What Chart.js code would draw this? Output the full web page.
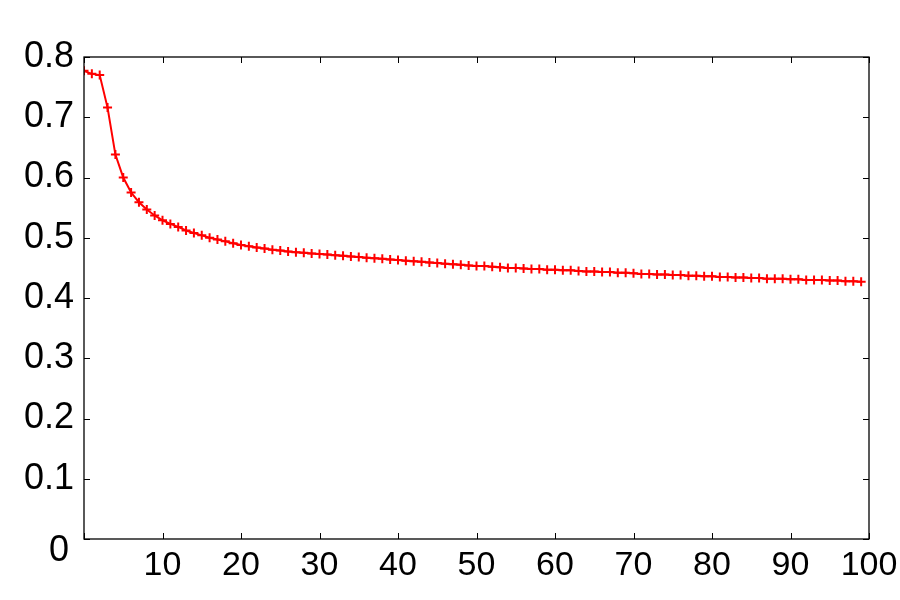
<!DOCTYPE html>
<html>
<head>
<meta charset="utf-8">
<script src="https://cdn.jsdelivr.net/npm/chart.js@4/dist/chart.umd.min.js"></script>
<style>
  html, body { margin: 0; padding: 0; background: #fff; }
  #wrap { width: 900px; height: 600px; }
</style>
</head>
<body>
<div id="wrap"><canvas id="lineChart"></canvas></div>
<script>
// x positions (iteration index) and the measured values
const xValues = [
  0, 1, 2, 3, 4, 5, 6, 7, 8, 9,
  10, 11, 12, 13, 14, 15, 16, 17, 18, 19,
  20, 21, 22, 23, 24, 25, 26, 27, 28, 29,
  30, 31, 32, 33, 34, 35, 36, 37, 38, 39,
  40, 41, 42, 43, 44, 45, 46, 47, 48, 49,
  50, 51, 52, 53, 54, 55, 56, 57, 58, 59,
  60, 61, 62, 63, 64, 65, 66, 67, 68, 69,
  70, 71, 72, 73, 74, 75, 76, 77, 78, 79,
  80, 81, 82, 83, 84, 85, 86, 87, 88, 89,
  90, 91, 92, 93, 94, 95, 96, 97, 98, 99
];
const yValues = [
  0.777, 0.772, 0.770, 0.716, 0.638, 0.600, 0.575, 0.559, 0.547, 0.537,
  0.529, 0.523, 0.518, 0.512, 0.508, 0.504, 0.500, 0.497, 0.494, 0.491,
  0.488, 0.486, 0.484, 0.482, 0.480, 0.479, 0.477, 0.476, 0.475, 0.474,
  0.473, 0.472, 0.471, 0.470, 0.469, 0.468, 0.467, 0.466, 0.465, 0.464,
  0.463, 0.462, 0.461, 0.460, 0.459, 0.458, 0.457, 0.456, 0.455, 0.454,
  0.453, 0.453, 0.452, 0.451, 0.450, 0.450, 0.449, 0.448, 0.448, 0.447,
  0.447, 0.446, 0.446, 0.445, 0.444, 0.444, 0.443, 0.443, 0.442, 0.442,
  0.441, 0.440, 0.440, 0.439, 0.439, 0.438, 0.438, 0.437, 0.437, 0.436,
  0.436, 0.435, 0.435, 0.434, 0.434, 0.433, 0.433, 0.432, 0.432, 0.432,
  0.431, 0.431, 0.430, 0.430, 0.430, 0.429, 0.429, 0.428, 0.428, 0.427
];
const xTicks = [0, 10, 20, 30, 40, 50, 60, 70, 80, 90, 100];
const yTicks = [0, 0.1, 0.2, 0.3, 0.4, 0.5, 0.6, 0.7, 0.8];

const fontFamily = '"Liberation Sans", Arial, Helvetica, sans-serif';

// box around the plot plus inward tick marks on all four sides
const boxPlugin = {
    id: 'boxPlugin',
    afterDraw(chart) {
        const { ctx, chartArea: a, scales } = chart;
        const len = 6;
        ctx.save();
        ctx.strokeStyle = '#000';
        ctx.lineWidth = 1.3;
        ctx.strokeRect(a.left, a.top, a.right - a.left, a.bottom - a.top);
        ctx.lineWidth = 1;
        ctx.beginPath();
        xTicks.forEach(v => {
            const px = Math.round(scales.x.getPixelForValue(v)) + 0.5;
            ctx.moveTo(px, a.bottom); ctx.lineTo(px, a.bottom - len);
            ctx.moveTo(px, a.top); ctx.lineTo(px, a.top + len);
        });
        yTicks.forEach(v => {
            const py = Math.round(scales.y.getPixelForValue(v)) + 0.5;
            ctx.moveTo(a.left, py); ctx.lineTo(a.left + len, py);
            ctx.moveTo(a.right, py); ctx.lineTo(a.right - len, py);
        });
        ctx.stroke();
        // the zero label sits a bit below the corner
        ctx.fillStyle = '#000';
        ctx.font = '36px ' + fontFamily;
        ctx.textAlign = 'right';
        ctx.textBaseline = 'middle';
        ctx.fillText('0', a.left - 15, scales.y.getPixelForValue(0) + 12);
        ctx.restore();
    }
};

const ctx = document.getElementById('lineChart');

new Chart(ctx, {
    type: 'line',
    data: {
        datasets: [{
            data: xValues.map((x, i) => ({ x: x, y: yValues[i] })),
            borderColor: '#ff0000',
            backgroundColor: '#ff0000',
            borderWidth: 2,
            pointStyle: 'cross',
            pointRadius: 4.5,
            pointBorderWidth: 2,
            pointHoverRadius: 4.5,
            tension: 0,
            fill: false
        }]
    },
    options: {
        responsive: true,
        maintainAspectRatio: false,
        animation: false,
        layout: { padding: { top: 57, right: 31, left: 0, bottom: 0 } },
        plugins: {
            legend: { display: false },
            tooltip: { enabled: false }
        },
        scales: {
            x: {
                type: 'linear',
                min: 0,
                max: 100,
                afterBuildTicks: scale => { scale.ticks = xTicks.map(v => ({ value: v })); },
                afterFit: scale => {
                    scale.height = 61;
                    scale.paddingLeft = 0;
                    scale.paddingRight = 0;
                },
                grid: { display: false, drawTicks: false },
                border: { display: false },
                ticks: {
                    color: '#000',
                    padding: 6,
                    maxRotation: 0,
                    autoSkip: false,
                    font: { family: fontFamily, size: 34 },
                    callback: v => (v === 0 ? '' : String(v))
                }
            },
            y: {
                min: 0,
                max: 0.8,
                afterBuildTicks: scale => { scale.ticks = yTicks.map(v => ({ value: v })); },
                afterFit: scale => {
                    scale.width = 84;
                    scale.paddingTop = 0;
                    scale.paddingBottom = 0;
                },
                grid: { display: false, drawTicks: false },
                border: { display: false },
                ticks: {
                    color: '#000',
                    padding: 10,
                    autoSkip: false,
                    font: { family: fontFamily, size: 36 },
                    callback: v => (v === 0 ? '' : v.toFixed(1))
                }
            }
        }
    },
    plugins: [boxPlugin]
});
</script>
</body>
</html>
